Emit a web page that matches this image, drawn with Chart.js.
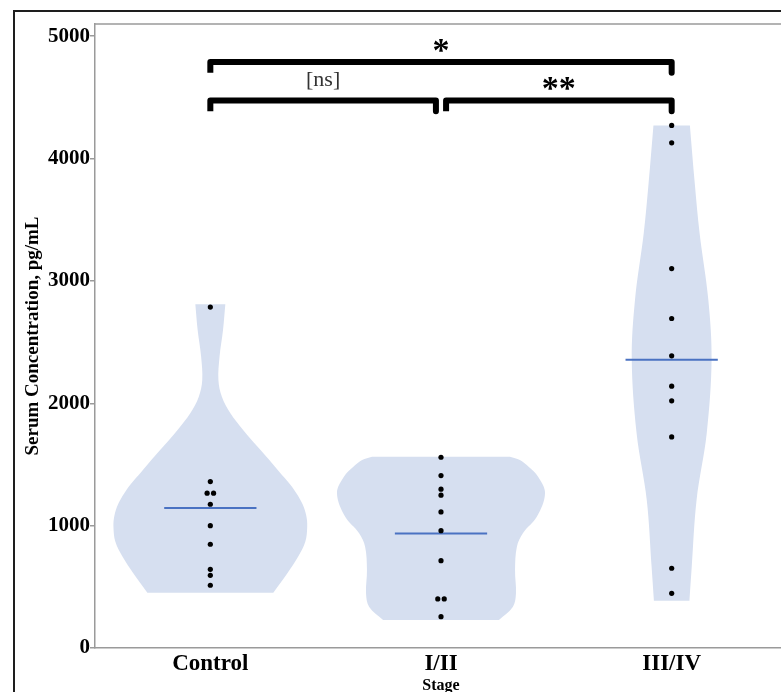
<!DOCTYPE html>
<html lang="en">
<head>
<meta charset="UTF-8">
<title>Serum Concentration by Stage</title>
<script src="https://cdn.jsdelivr.net/npm/chart.js@4.4.1/dist/chart.umd.min.js"></script>
<style>
  html, body { margin: 0; padding: 0; background: #fff; overflow: hidden; }
  canvas { display: block; }
</style>
</head>
<body>
<canvas id="myChart" width="800" height="700"></canvas>
<script>
var stages = ["Control", "I/II", "III/IV"];
var yTicks = [0, 1000, 2000, 3000, 4000, 5000];

// individual samples, pg/mL
var controlValues = [2786, 1360, 1265, 1265, 1175, 1000, 848, 643, 594, 513];
var stage12Values = [1559, 1409, 1298, 1249, 1112, 959, 714, 401, 401, 256];
var stage34Values = [4271, 4129, 3101, 2693, 2388, 2140, 2020, 1725, 652, 447];

// violin outlines: level (pg/mL) and half width (category units)
var controlLevels = [452, 611, 747, 870, 992, 1080, 1170, 1265, 1350, 1430, 1540, 1646, 1780, 1918, 2054, 2191, 2382, 2600, 2810];
var controlWidths = [0.273, 0.334, 0.381, 0.412, 0.42, 0.416, 0.401, 0.373, 0.340, 0.303, 0.254, 0.204, 0.143, 0.087, 0.050, 0.035, 0.040, 0.055, 0.065];
var stage12Levels = [229, 338, 447, 638, 828, 938, 1074, 1265, 1400, 1480, 1537, 1564];
var stage12Widths = [0.251, 0.312, 0.325, 0.321, 0.329, 0.355, 0.416, 0.451, 0.421, 0.381, 0.342, 0.299];
var stage34Levels = [387, 665, 1210, 1755, 2355, 2845, 3391, 3800, 4271];
var stage34Widths = [0.077, 0.087, 0.108, 0.152, 0.173, 0.159, 0.121, 0.100, 0.079];

// pairwise tests: group a, group b, label
var comparisons = [[0, 2, "*"], [0, 1, "[ns]"], [1, 2, "**"]];

var serif = "'Liberation Serif', 'Times New Roman', serif";
var violinColor = "#d6dff0";
var meanColor = "#4a72c2";

// bracket rows in value units (row 0 = adjacent pairs, row 1 = wider pair)
var bracketRows = [4474, 4789];
var bracketDrop = 88;
var bracketInset = 0.022;

function violinOutline(center, levels, widths) {
  var right = levels.map(function (v, i) { return { x: center + widths[i], y: v }; });
  var left = levels.map(function (v, i) { return { x: center - widths[i], y: v }; }).reverse();
  // doubled end points keep the flat cut ends sharp under tension
  return [right[0]].concat(right, [right[right.length - 1], left[0]], left, [left[left.length - 1]]);
}

function swarm(center, values) {
  return values.map(function (v, i) {
    var same = values.filter(function (w) { return w === v; }).length;
    var rank = values.slice(0, i).filter(function (w) { return w === v; }).length;
    return { x: center + (rank - (same - 1) / 2) * 0.028, y: v };
  });
}

function mean(values) {
  return values.reduce(function (s, v) { return s + v; }, 0) / values.length;
}

var groups = [
  { values: controlValues, levels: controlLevels, widths: controlWidths },
  { values: stage12Values, levels: stage12Levels, widths: stage12Widths },
  { values: stage34Values, levels: stage34Levels, widths: stage34Widths }
];

var datasets = [];
groups.forEach(function (g, i) {
  datasets.push({
    data: violinOutline(i, g.levels, g.widths),
    showLine: true, fill: 'shape', tension: 0.35,
    backgroundColor: violinColor, borderColor: 'rgba(0,0,0,0)', borderWidth: 0,
    pointRadius: 0, order: 4
  });
  var m = mean(g.values);
  datasets.push({
    data: [{ x: i - 0.2, y: m }, { x: i + 0.2, y: m }],
    showLine: true, borderColor: meanColor, borderWidth: 2, pointRadius: 0, order: 3
  });
  datasets.push({
    data: swarm(i, g.values),
    pointRadius: 2.6, pointBackgroundColor: '#000', pointBorderWidth: 0, order: 1
  });
});

function bracketEnds(c) {
  var a = c[0], b = c[1], last = stages.length - 1;
  var inset = (b - a === 1) ? bracketInset : 0;
  var x0 = a + (a > 0 && a < last ? inset : 0);
  var x1 = b - (b > 0 && b < last ? inset : 0);
  return { x0: x0, x1: x1, y: bracketRows[b - a - 1] };
}

comparisons.forEach(function (c) {
  var e = bracketEnds(c);
  datasets.push({
    data: [{ x: e.x0, y: e.y - bracketDrop }, { x: e.x0, y: e.y }, { x: e.x1, y: e.y }, { x: e.x1, y: e.y - bracketDrop }],
    showLine: true, borderColor: '#000', borderWidth: 6, borderJoinStyle: 'round', borderCapStyle: 'butt',
    tension: 0, pointRadius: 0, order: 0
  });
});

var frameAndLabels = {
  id: 'frameAndLabels',
  beforeDraw: function (chart) {
    var ctx = chart.ctx;
    ctx.save();
    ctx.fillStyle = '#fff';
    ctx.fillRect(0, 0, chart.width, chart.height);
    ctx.strokeStyle = '#1e1e1e';
    ctx.lineWidth = 2;
    ctx.strokeRect(14, 11, chart.width, chart.height);
    ctx.restore();
  },
  afterDraw: function (chart) {
    var ctx = chart.ctx, a = chart.chartArea, xs = chart.scales.x, ys = chart.scales.y;
    ctx.save();
    ctx.strokeStyle = '#9a9a9a';
    ctx.lineWidth = 1.5;
    ctx.beginPath();
    ctx.moveTo(a.left, a.top);
    ctx.lineTo(a.right, a.top);
    ctx.lineTo(a.right, a.bottom);
    ctx.stroke();

    comparisons.forEach(function (c) {
      var e = bracketEnds(c);
      var label = c[2];
      var star = label.indexOf('*') >= 0;
      ctx.font = star ? 'bold 34px ' + serif : '22px ' + serif;
      ctx.fillStyle = star ? '#000' : '#333';
      ctx.textAlign = 'center';
      ctx.textBaseline = 'alphabetic';
      var m = ctx.measureText(label);
      var cy = ys.getPixelForValue(e.y) - (star ? 17 : 20);
      var base = cy + (m.actualBoundingBoxAscent - m.actualBoundingBoxDescent) / 2;
      ctx.fillText(label, xs.getPixelForValue((e.x0 + e.x1) / 2), base);
    });
    ctx.restore();
  }
};

var ctx = document.getElementById('myChart').getContext('2d');
var myChart = new Chart(ctx, {
  type: 'scatter',
  data: { datasets: datasets },
  options: {
    responsive: false,
    animation: false,
    layout: { padding: { left: 18, top: 24, right: 13, bottom: 5 } },
    plugins: { legend: { display: false }, tooltip: { enabled: false } },
    scales: {
      x: {
        type: 'linear', min: -0.5, max: 2.5,
        afterBuildTicks: function (axis) { axis.ticks = stages.map(function (s, i) { return { value: i }; }); },
        afterFit: function (axis) { axis.height = 47; },
        grid: { display: false },
        border: { display: true, color: '#9a9a9a', width: 1.5 },
        ticks: {
          padding: -6, color: '#000', maxRotation: 0, autoSkip: false,
          font: { family: serif, size: 23, weight: 'bold' },
          callback: function (v) { return stages[v]; }
        },
        title: {
          display: true, text: 'Stage', color: '#000',
          font: { family: serif, size: 16, weight: 'bold' },
          padding: { top: 0, bottom: 0 }
        }
      },
      y: {
        min: 0, max: 5100,
        afterBuildTicks: function (axis) { axis.ticks = yTicks.map(function (v) { return { value: v }; }); },
        afterFit: function (axis) { axis.width = 77; },
        grid: { drawOnChartArea: false, color: '#9a9a9a', tickLength: 5, lineWidth: 1.5 },
        border: { display: true, color: '#9a9a9a', width: 1.5 },
        ticks: {
          padding: 0, color: '#000', font: { family: serif, size: 21, weight: 'bold' },
          callback: function (v) { return String(v); }
        },
        title: {
          display: true, text: 'Serum Concentration, pg/mL', color: '#000',
          font: { family: serif, size: 19, weight: 'bold' },
          padding: { top: 4, bottom: 0 }
        }
      }
    }
  },
  plugins: [frameAndLabels]
});
</script>
</body>
</html>
